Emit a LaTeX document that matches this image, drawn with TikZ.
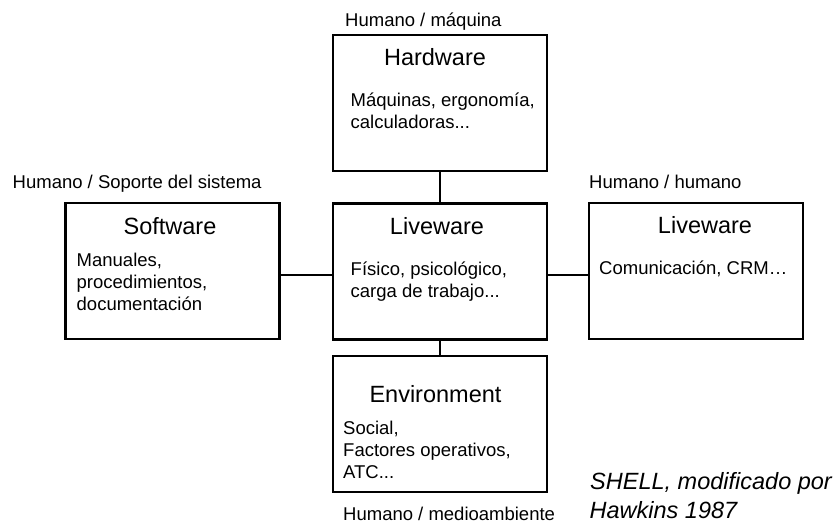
\documentclass[tikz,border=0pt]{standalone}
\usepackage{fontspec}
\setmainfont{Liberation Sans}
\begin{document}
\begin{tikzpicture}[x=1pt,y=-1pt,
  box/.style={draw=black,line width=2.4pt,minimum width=214pt,minimum height=136pt,inner sep=0pt},
  link/.style={draw=black,line width=1.1pt},
  title/.style={font=\fontsize{23.5}{28}\selectfont,anchor=base,inner sep=0pt},
  body/.style={font=\fontsize{18.5}{22}\selectfont,anchor=base west,inner sep=0pt},
  tag/.style={font=\fontsize{18.5}{22}\selectfont,anchor=base west,inner sep=0pt},
  credit/.style={font=\fontsize{23.5}{29}\selectfont\itshape,anchor=base west,inner sep=0pt}]
\useasboundingbox (0,0) rectangle (838,525);

% SHELL boxes
\node[box] (hw)  at (440,103)   {};
\node[box] (sw)  at (172.5,271) {};
\node[box] (lw)  at (440,271.5) {};
\node[box] (lw2) at (696,271)   {};
\node[box] (env) at (440,424)   {};

% interfaces between the central Liveware and the other elements
\draw[link] (hw.south) -- (lw.north);
\draw[link] (lw.south) -- (env.north);
\draw[link] (sw.east |- 0,275) -- (lw.west |- 0,275);
\draw[link] (lw.east |- 0,275) -- (lw2.west |- 0,275);

% Hardware
\node[tag] (thw) at (345,26.5) {Humano / máquina};
\node[title] (hwt) at (435,65.5) {Hardware};
\node[body] (hw1) at (350.5,106) {Máquinas, ergonomía,};
\node[body] (hw2) at (350.5,128) {calculadoras...};

% Software
\node[tag] (tsw) at (12.5,188.5) {Humano / Soporte del sistema};
\node[title] (swt) at (170,234) {Software};
\node[body] (sw1) at (76.5,266.5) {Manuales,};
\node[body] (sw2) at (76.5,288.5) {procedimientos,};
\node[body] (sw3) at (76.5,310.5) {documentación};

% Liveware (central)
\node[title] (lwt) at (437,234) {Liveware};
\node[body] (lw1) at (350.5,275) {Físico, psicológico,};
\node[body] (lw3) at (350.5,297) {carga de trabajo...};

% Liveware (other people)
\node[tag] (tlw) at (589,188.5) {Humano / humano};
\node[title] (lw2t) at (705,233.5) {Liveware};
\node[body] (lw21) at (599,274) {Comunicación, CRM…};

% Environment
\node[title] (envt) at (435.5,402.5) {Environment};
\node[body] (env1) at (343,434) {Social,};
\node[body] (env2) at (343,456) {Factores operativos,};
\node[body] (env3) at (343,478) {ATC...};
\node[tag] (tenv) at (343,520.5) {Humano / medioambiente};

% source
\node[credit] (src1) at (590,489.5) {SHELL, modificado por};
\node[credit] (src2) at (589.5,518.5) {Hawkins 1987};
\end{tikzpicture}
\end{document}
